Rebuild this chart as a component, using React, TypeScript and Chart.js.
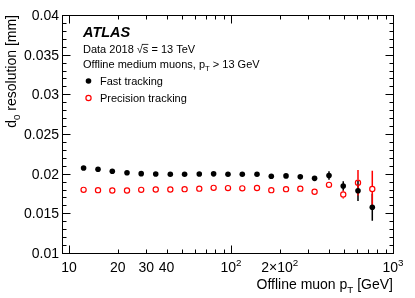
import React, { useEffect, useRef } from "react";
import { Chart, registerables } from "chart.js";

Chart.register(...registerables);

// ---- data ----
const ptValues = [12.3, 15.1, 18.5, 22.8, 27.9, 34.3, 42.2, 51.7, 63.7, 78.1, 95.8, 117.4, 144.7, 177.3, 218.6, 267.7, 328, 402.6, 493, 608, 745];
const fastRes = [0.02071, 0.02055, 0.0203, 0.02012, 0.02, 0.01996, 0.01992, 0.01992, 0.01996, 0.01998, 0.01992, 0.01992, 0.01992, 0.01968, 0.01972, 0.0196, 0.01941, 0.01977, 0.01845, 0.01784, 0.01576];
const fastErr = [0.00004, 0.00004, 0.00004, 0.00004, 0.00004, 0.00004, 0.00004, 0.00004, 0.00004, 0.00005, 0.00005, 0.00005, 0.00006, 0.00007, 0.00008, 0.0001, 0.00018, 0.00055, 0.0006, 0.0013, 0.0017];
const precRes = [0.01796, 0.01792, 0.01788, 0.01788, 0.01796, 0.018, 0.018, 0.01805, 0.01811, 0.01821, 0.01818, 0.01815, 0.01819, 0.01792, 0.01805, 0.01811, 0.01773, 0.01859, 0.01738, 0.01886, 0.01807];
const precErr = [0.00003, 0.00003, 0.00003, 0.00003, 0.00003, 0.00003, 0.00003, 0.00003, 0.00003, 0.00004, 0.00004, 0.00004, 0.00005, 0.00006, 0.00007, 0.00008, 0.0001, 0.00018, 0.0005, 0.0016, 0.0023];

const xMin = 9.05;
const xMax = 1000;
const yMin = 0.01;
const yMax = 0.04;
const yMajorTicks = [0.01, 0.015, 0.02, 0.025, 0.03, 0.035, 0.04];
const yTickLabels = ["0.01", "0.015", "0.02", "0.025", "0.03", "0.035", "0.04"];
const yMinorStep = 0.001;
const xMajorTicks = [10, 100, 1000];
const xMinorTicks = [20, 30, 40, 50, 60, 70, 80, 90, 200, 300, 400, 500, 600, 700, 800, 900];
const xLabelValues = [10, 20, 30, 40, 100, 200, 1000];
const xLabelBase = ["10", "20", "30", "40", "10", "2\u00d710", "10"];
const xLabelSup = ["", "", "", "", "2", "2", "3"];

const FONT = "'Liberation Sans', Arial, Helvetica, sans-serif";

type Part = { t: string; s?: "sub" | "sup"; over?: boolean };

function partFont(size: number, p: Part, style: string) {
  const sz = p.s ? size * 0.7 : size;
  return `${style} ${sz}px ${FONT}`;
}

function richWidth(ctx: CanvasRenderingContext2D, parts: Part[], size: number, style: string) {
  let w = 0;
  for (const p of parts) {
    ctx.font = partFont(size, p, style);
    w += ctx.measureText(p.t).width;
  }
  return w;
}

function drawRich(
  ctx: CanvasRenderingContext2D,
  parts: Part[],
  x: number,
  y: number,
  size: number,
  align: "left" | "right" | "center",
  color: string,
  style = "normal"
) {
  const w = richWidth(ctx, parts, size, style);
  let cx = align === "left" ? x : align === "right" ? x - w : x - w / 2;
  ctx.fillStyle = color;
  ctx.strokeStyle = color;
  ctx.textAlign = "left";
  ctx.textBaseline = "alphabetic";
  for (const p of parts) {
    ctx.font = partFont(size, p, style);
    const dy = p.s === "sub" ? size * 0.3 : p.s === "sup" ? -size * 0.42 : 0;
    ctx.fillText(p.t, cx, y + dy);
    const pw = ctx.measureText(p.t).width;
    if (p.over) {
      ctx.lineWidth = 0.8;
      ctx.beginPath();
      ctx.moveTo(cx - 1, y - size * 0.78);
      ctx.lineTo(cx + pw, y - size * 0.78);
      ctx.stroke();
    }
    cx += pw;
  }
}

const errorBarsPlugin = {
  id: "errorBars",
  beforeDatasetsDraw(chart: any) {
    const ctx: CanvasRenderingContext2D = chart.ctx;
    const xs = chart.scales.x;
    const ys = chart.scales.y;
    const series = [
      { vals: fastRes, errs: fastErr, color: "#000000", gap: 0 },
      { vals: precRes, errs: precErr, color: "#ff0000", gap: 3 },
    ];
    ctx.save();
    ctx.lineWidth = 1.5;
    for (const s of series) {
      ctx.strokeStyle = s.color;
      for (let i = 0; i < ptValues.length; i++) {
        const px = xs.getPixelForValue(ptValues[i]);
        const py = ys.getPixelForValue(s.vals[i]);
        const top = ys.getPixelForValue(s.vals[i] + s.errs[i]);
        const bot = ys.getPixelForValue(s.vals[i] - s.errs[i]);
        ctx.beginPath();
        if (py - top > s.gap) {
          ctx.moveTo(px, top);
          ctx.lineTo(px, py - s.gap);
        }
        if (bot - py > s.gap) {
          ctx.moveTo(px, py + s.gap);
          ctx.lineTo(px, bot);
        }
        ctx.stroke();
      }
    }
    ctx.restore();
  },
};

const framePlugin = {
  id: "rootFrame",
  afterDraw(chart: any) {
    const ctx: CanvasRenderingContext2D = chart.ctx;
    const a = chart.chartArea;
    const xs = chart.scales.x;
    const ys = chart.scales.y;
    const L = Math.round(a.left) + 0.5;
    const R = Math.round(a.right) + 0.5;
    const T = Math.round(a.top) + 0.5;
    const B = Math.round(a.bottom) + 0.5;
    ctx.save();
    ctx.strokeStyle = "#000";
    ctx.lineWidth = 1;
    ctx.strokeRect(L, T, R - L, B - T);

    // y ticks
    ctx.beginPath();
    for (let v = yMin; v <= yMax + 1e-9; v += yMinorStep) {
      const major = yMajorTicks.some((m) => Math.abs(m - v) < 1e-7);
      const len = major ? 8 : 4;
      const py = Math.round(ys.getPixelForValue(v)) + 0.5;
      ctx.moveTo(L, py);
      ctx.lineTo(L + len, py);
      ctx.moveTo(R, py);
      ctx.lineTo(R - len, py);
    }
    // x ticks
    const xt = [...xMajorTicks.map((v) => [v, 8]), ...xMinorTicks.map((v) => [v, 4])];
    for (const [v, len] of xt) {
      const px = Math.round(xs.getPixelForValue(v)) + 0.5;
      ctx.moveTo(px, B);
      ctx.lineTo(px, B - len);
      ctx.moveTo(px, T);
      ctx.lineTo(px, T + len);
    }
    ctx.stroke();

    // y tick labels
    ctx.fillStyle = "#000";
    ctx.font = `14px ${FONT}`;
    ctx.textAlign = "right";
    ctx.textBaseline = "middle";
    yMajorTicks.forEach((v, i) => {
      ctx.fillText(yTickLabels[i], a.left - 3, ys.getPixelForValue(v) + 1);
    });

    // x tick labels
    xLabelValues.forEach((v, i) => {
      const parts: Part[] = [{ t: xLabelBase[i] }];
      if (xLabelSup[i]) parts.push({ t: xLabelSup[i], s: "sup" });
      drawRich(ctx, parts, xs.getPixelForValue(v), a.bottom + 19, 14, "center", "#000");
    });

    // axis titles
    drawRich(
      ctx,
      [{ t: "Offline muon p" }, { t: "T", s: "sub" }, { t: " [GeV]" }],
      a.right,
      a.bottom + 36,
      14,
      "right",
      "#000"
    );
    ctx.save();
    ctx.translate(16, a.top);
    ctx.rotate(-Math.PI / 2);
    drawRich(ctx, [{ t: "d" }, { t: "0", s: "sub" }, { t: " resolution [mm]" }], 0, 0, 14, "right", "#000");
    ctx.restore();

    // annotations
    drawRich(ctx, [{ t: "ATLAS" }], 83, 37, 14.5, "left", "#000", "italic bold");
    drawRich(ctx, [{ t: "Data 2018 " }, { t: "\u221a" }, { t: "s", over: true }, { t: " = 13 TeV" }], 83, 53, 11, "left", "#000");
    drawRich(
      ctx,
      [{ t: "Offline medium muons, p" }, { t: "T", s: "sub" }, { t: " > 13 GeV" }],
      83,
      68,
      11,
      "left",
      "#000"
    );

    // legend
    ctx.fillStyle = "#000";
    ctx.beginPath();
    ctx.arc(88.5, 81, 2.8, 0, Math.PI * 2);
    ctx.fill();
    drawRich(ctx, [{ t: "Fast tracking" }], 100, 85, 11, "left", "#000");
    ctx.strokeStyle = "#ff0000";
    ctx.lineWidth = 1.2;
    ctx.beginPath();
    ctx.arc(88.5, 98, 2.6, 0, Math.PI * 2);
    ctx.stroke();
    drawRich(ctx, [{ t: "Precision tracking" }], 100, 102, 11, "left", "#000");
    ctx.restore();
  },
};

export default function App() {
  const canvasRef = useRef<HTMLCanvasElement | null>(null);

  useEffect(() => {
    const canvas = canvasRef.current;
    if (!canvas) return;
    const chart = new Chart(canvas, {
      type: "scatter",
      data: {
        datasets: [
          {
            label: "Fast tracking",
            data: ptValues.map((x, i) => ({ x, y: fastRes[i] })),
            pointRadius: 2.8,
            pointHoverRadius: 2.8,
            pointBackgroundColor: "#000000",
            pointBorderColor: "#000000",
            pointBorderWidth: 0,
            showLine: false,
          },
          {
            label: "Precision tracking",
            data: ptValues.map((x, i) => ({ x, y: precRes[i] })),
            pointRadius: 2.6,
            pointHoverRadius: 2.6,
            pointBackgroundColor: "rgba(0,0,0,0)",
            pointBorderColor: "#ff0000",
            pointBorderWidth: 1.2,
            showLine: false,
          },
        ],
      },
      options: {
        responsive: false,
        animation: false,
        events: [],
        layout: { padding: { left: 62, right: 22, top: 15, bottom: 45 } },
        plugins: { legend: { display: false }, tooltip: { enabled: false } },
        scales: {
          x: { type: "logarithmic", min: xMin, max: xMax, display: false },
          y: { type: "linear", min: yMin, max: yMax, display: false },
        },
      },
      plugins: [errorBarsPlugin, framePlugin],
    });
    return () => chart.destroy();
  }, []);

  return (
    <div style={{ position: "fixed", left: 0, top: 0, width: 415, height: 298, background: "#fff" }}>
      <canvas ref={canvasRef} width={415} height={298} style={{ display: "block" }} />
    </div>
  );
}
